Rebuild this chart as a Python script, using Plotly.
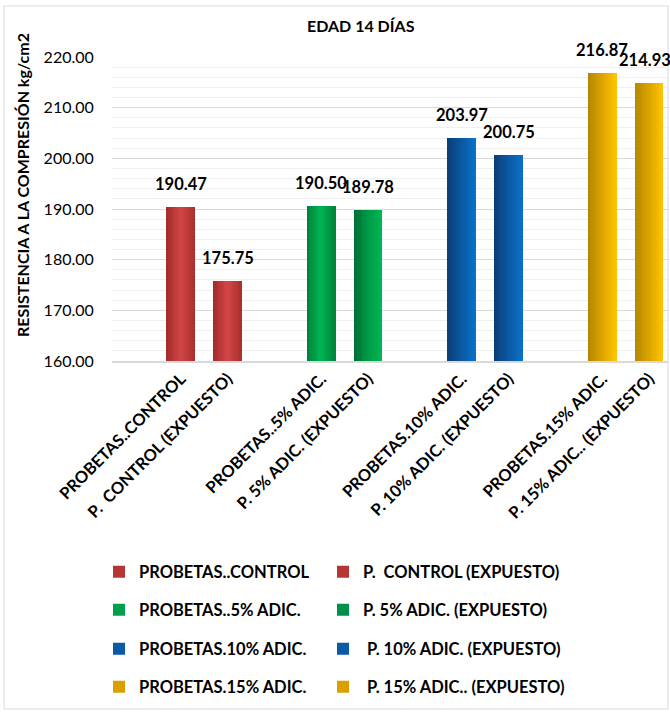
import plotly.graph_objects as go

# Compressive strength at 14 days, one bar per specimen set
categorias = [
    "PROBETAS..CONTROL",
    "P.  CONTROL (EXPUESTO)",
    "PROBETAS..5% ADIC.",
    "P. 5% ADIC. (EXPUESTO)",
    "PROBETAS.10% ADIC.",
    "P. 10% ADIC. (EXPUESTO)",
    "PROBETAS.15% ADIC.",
    "P. 15% ADIC.. (EXPUESTO)",
]
nombres_leyenda = [
    "PROBETAS..CONTROL",
    "P.  CONTROL (EXPUESTO)",
    "PROBETAS..5% ADIC.",
    "P. 5% ADIC. (EXPUESTO)",
    "PROBETAS.10% ADIC.",
    " P. 10% ADIC. (EXPUESTO)",
    "PROBETAS.15% ADIC.",
    " P. 15% ADIC.. (EXPUESTO)",
]
resistencia = [190.47, 175.75, 190.50, 189.78, 203.97, 200.75, 216.87, 214.93]
y_ticks = [160, 170, 180, 190, 200, 210, 220]

# Gradient stops per bar: (left, centre, right)
gradientes = [
    ("#a02a2a", "#d44646", "#a8302e"),
    ("#a02a2a", "#d44646", "#a8302e"),
    ("#00803a", "#00b654", "#00843c"),
    ("#006a34", "#009a46", "#00b852"),
    ("#0b3d74", "#0a58a2", "#0a72c8"),
    ("#0b3d74", "#0a58a2", "#0a72c8"),
    ("#b48600", "#dca400", "#ffc400"),
    ("#b48600", "#dca400", "#ffc400"),
]
colores_leyenda = ["#b83434", "#b83434", "#00a04a", "#00904a",
                   "#0a5aa8", "#0a5aa8", "#d8a000", "#d8a000"]

FONT = "Lato"
N_SLICES = 16
BAR_W = 0.6


def hex_rgb(h):
    h = h.lstrip("#")
    return tuple(int(h[i:i + 2], 16) for i in (0, 2, 4))


def mix(c1, c2, t):
    a, b = hex_rgb(c1), hex_rgb(c2)
    return "rgb(%d,%d,%d)" % tuple(round(a[k] + (b[k] - a[k]) * t) for k in range(3))


def shade(stops, t):
    left, mid, right = stops
    return mix(left, mid, t / 0.5) if t <= 0.5 else mix(mid, right, (t - 0.5) / 0.5)


PLOT_L, PLOT_R, PLOT_T, PLOT_B = 112, 668, 57, 361
W, H = 670, 712
pw, ph = PLOT_R - PLOT_L, PLOT_B - PLOT_T


def px_x(x):
    return (x - PLOT_L) / pw


def px_y(y):
    return (PLOT_B - y) / ph


# bars come in pairs with an empty slot between pairs
posiciones = [(i // 2) * 3 + (i % 2) for i in range(len(categorias))]

fig = go.Figure()
legend_ids = ["legend"] + [f"legend{k}" for k in range(2, len(categorias) + 1)]

for i, (pos, val) in enumerate(zip(posiciones, resistencia)):
    sw = BAR_W / N_SLICES
    for s in range(N_SLICES):
        t = (s + 0.5) / N_SLICES
        fig.add_trace(go.Bar(
            x=[pos], y=[val],
            width=[sw * 1.08], offset=[-BAR_W / 2 + s * sw],
            marker=dict(color=shade(gradientes[i], t), line=dict(width=0)),
            showlegend=False, legendgroup=str(i),
            hoverinfo="skip" if s else "x+y",
            name=nombres_leyenda[i],
        ))
    # legend swatch for this series
    fig.add_trace(go.Bar(
        x=[pos], y=[None], name=nombres_leyenda[i],
        marker=dict(color=colores_leyenda[i], line=dict(width=0)),
        legendgroup=str(i), showlegend=True, legend=legend_ids[i],
    ))

# value labels above each bar
for i, (pos, val) in enumerate(zip(posiciones, resistencia)):
    fig.add_annotation(
        x=pos, y=val, text=f"{val:.2f}", showarrow=False,
        yanchor="bottom", yshift=11, xshift=-4 if i == len(resistencia) - 1 else 0,
        font=dict(family=FONT, size=16.5, color="#000000", weight="bold"),
    )

fig.add_annotation(
    xref="paper", yref="paper", x=px_x(361), y=px_y(26),
    xanchor="center", yanchor="middle",
    text="EDAD 14 DÍAS", showarrow=False,
    font=dict(family=FONT, size=16, color="#000000", weight="bold"),
)
fig.add_annotation(
    xref="paper", yref="paper", x=px_x(22), y=px_y(185), textangle=-90,
    xanchor="center", yanchor="middle",
    text="RESISTENCIA A LA COMPRESIÓN kg/cm2", showarrow=False,
    font=dict(family=FONT, size=16, color="#000000", weight="bold"),
)

# outer chart border
fig.add_shape(
    type="rect", xref="paper", yref="paper", layer="below",
    x0=px_x(4), x1=px_x(668), y0=px_y(709), y1=px_y(6),
    line=dict(color="#d9d9d9", width=1), fillcolor="rgba(0,0,0,0)",
)

# two-column legend, one legend box per entry
legend_common = dict(
    orientation="v", xanchor="left", yanchor="middle",
    bgcolor="rgba(0,0,0,0)", itemclick="toggleothers",
    font=dict(family=FONT, size=16.5, color="#000000", weight="bold"),
)
col_x = [99, 323]
row_y = [572, 610, 649, 687]
layout_legends = {}
for i, lid in enumerate(legend_ids):
    layout_legends[lid] = dict(legend_common, x=px_x(col_x[i % 2]), y=px_y(row_y[i // 2]))

fig.update_layout(
    width=W, height=H,
    margin=dict(l=PLOT_L, r=W - PLOT_R, t=PLOT_T, b=H - PLOT_B, pad=0),
    paper_bgcolor="#ffffff", plot_bgcolor="#ffffff",
    barmode="overlay", bargap=0,
    font=dict(family=FONT, color="#000000"),
    **layout_legends,
)

fig.update_xaxes(
    range=[-1.47, 10.4], tickmode="array", tickvals=posiciones, ticktext=categorias,
    tickangle=-45, showgrid=False, zeroline=False,
    showline=True, linecolor="#d9d9d9", linewidth=1.5,
    tickfont=dict(family=FONT, size=16.5, color="#000000", weight="bold"),
    ticks="",
)
fig.update_yaxes(
    range=[160, 220], tickmode="array", tickvals=y_ticks,
    ticktext=[f"{v:.2f}" for v in y_ticks],
    showgrid=True, gridcolor="#d9d9d9", gridwidth=1.3, zeroline=False,
    minor=dict(dtick=2, showgrid=True, gridcolor="#efefef", gridwidth=1),
    ticks="outside", ticklen=14, tickcolor="rgba(0,0,0,0)",
    tickfont=dict(family=FONT, size=16, color="#000000"),
    showline=False,
)

fig.write_html("out.html")
